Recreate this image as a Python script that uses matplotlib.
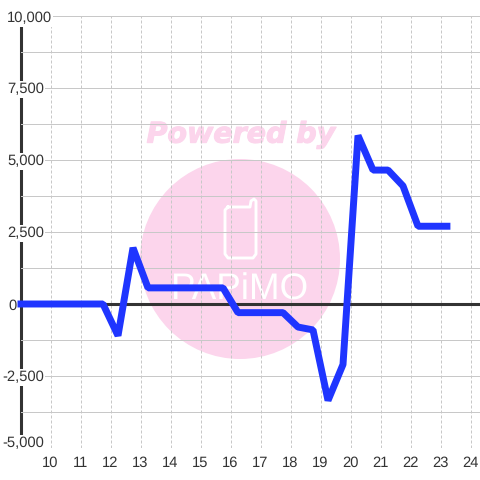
import matplotlib
matplotlib.use('Agg')
import matplotlib.pyplot as plt
from matplotlib.patches import Circle
from matplotlib.patheffects import withStroke
from matplotlib.transforms import IdentityTransform, ScaledTranslation

# half hour stations
hours = [8.9, 11.75, 12.25, 12.75, 13.25, 15.75, 16.25, 17.75, 18.25, 18.75, 19.25,
         19.75, 20.25, 20.75, 21.25, 21.75, 22.25, 23.33]
values = [0, 0, -1100, 1950, 560, 560, -300, -300, -800, -900, -3350,
          -2100, 5850, 4650, 4650, 4100, 2700, 2700]

x_ticks = list(range(10, 25))
y_major = [-5000, -2500, 0, 2500, 5000, 7500, 10000]
y_minor = [-3750, -1250, 1250, 3750, 6250, 8750]
y_labels = ['-5,000', '-2,500', '0', '2,500', '5,000', '7,500', '10,000']

plt.rcParams['font.family'] = ['Liberation Sans', 'DejaVu Sans']
plt.rcParams['text.hinting'] = 'no_hinting'

fig = plt.figure(figsize=(4.8, 4.8), dpi=100)
ax = fig.add_axes([20.5 / 480, 32 / 480, 459.5 / 480, 432 / 480])
ax.set_xlim(9, 9 + 459.5 / 30)
ax.set_ylim(-5000, 10000)
ax.patch.set_visible(False)
ax.set_axisbelow(False)

for side in ['top', 'right', 'bottom']:
    ax.spines[side].set_visible(False)
ax.spines['left'].set_linewidth(2.2)
ax.spines['left'].set_color('#333333')

# watermark sits under the grid
px = IdentityTransform()
ax.add_patch(Circle((240, 480 - 259), 100, transform=px, fc='#fcd5ec', ec='none', zorder=0.5))
phone_x = [228, 250, 251, 254, 256, 256, 253, 228, 225, 225, 228]
phone_y = [207, 207, 201, 199, 201, 254, 258, 258, 254, 210, 207]
ax.plot(phone_x, [480 - v for v in phone_y], transform=px, color='white', lw=2.1, zorder=0.6)
ax.text(241, 480 - 135, 'Powered by', transform=px, color='#fcd5ec', fontsize=20.5, fontweight='bold',
        fontstyle='italic', family='DejaVu Sans', ha='center', va='center', zorder=0.6,
        path_effects=[withStroke(linewidth=0.8, foreground='#fcd5ec')])
ax.text(240, 480 - 290, 'PAPiMO', transform=px, color='white', fontsize=26.5,
        ha='center', va='center', zorder=0.6)

ax.set_xticks(x_ticks)
ax.set_yticks(y_major)
ax.set_yticks(y_minor, minor=True)
ax.set_yticklabels(y_labels)
ax.grid(True, which='major', axis='x', color='#c8c8c8', lw=0.72, ls=(0, (3, 2)))
ax.grid(True, which='both', axis='y', color='#c8c8c8', lw=0.72)
ax.tick_params(which='both', length=0)
ax.tick_params(axis='x', pad=6, labelsize=10.6, labelcolor='#333333')
ax.tick_params(axis='y', pad=-16.8, labelsize=10.6, labelcolor='#333333')

labs = ax.get_yticklabels()
for lab in labs:
    if lab.get_text() != '0':
        lab.set_bbox(dict(fc='white', ec='none', pad=0.8))
labs[-1].set_transform(labs[-1].get_transform() + ScaledTranslation(8 / 100, -1 / 100, fig.dpi_scale_trans))
labs[0].set_transform(labs[0].get_transform() + ScaledTranslation(0, 6 / 100, fig.dpi_scale_trans))
# the zero label sits left of the axis line
labs[2].set_transform(labs[2].get_transform() + ScaledTranslation(-27 / 100, 0, fig.dpi_scale_trans))

ax.axhline(0, color='#333333', lw=2.2, zorder=2.8)
ax.plot(hours, values, color='#1f35ff', lw=5, solid_joinstyle='bevel', solid_capstyle='butt', zorder=3,
        clip_on=False)

fig.savefig('out.png', dpi=100)
